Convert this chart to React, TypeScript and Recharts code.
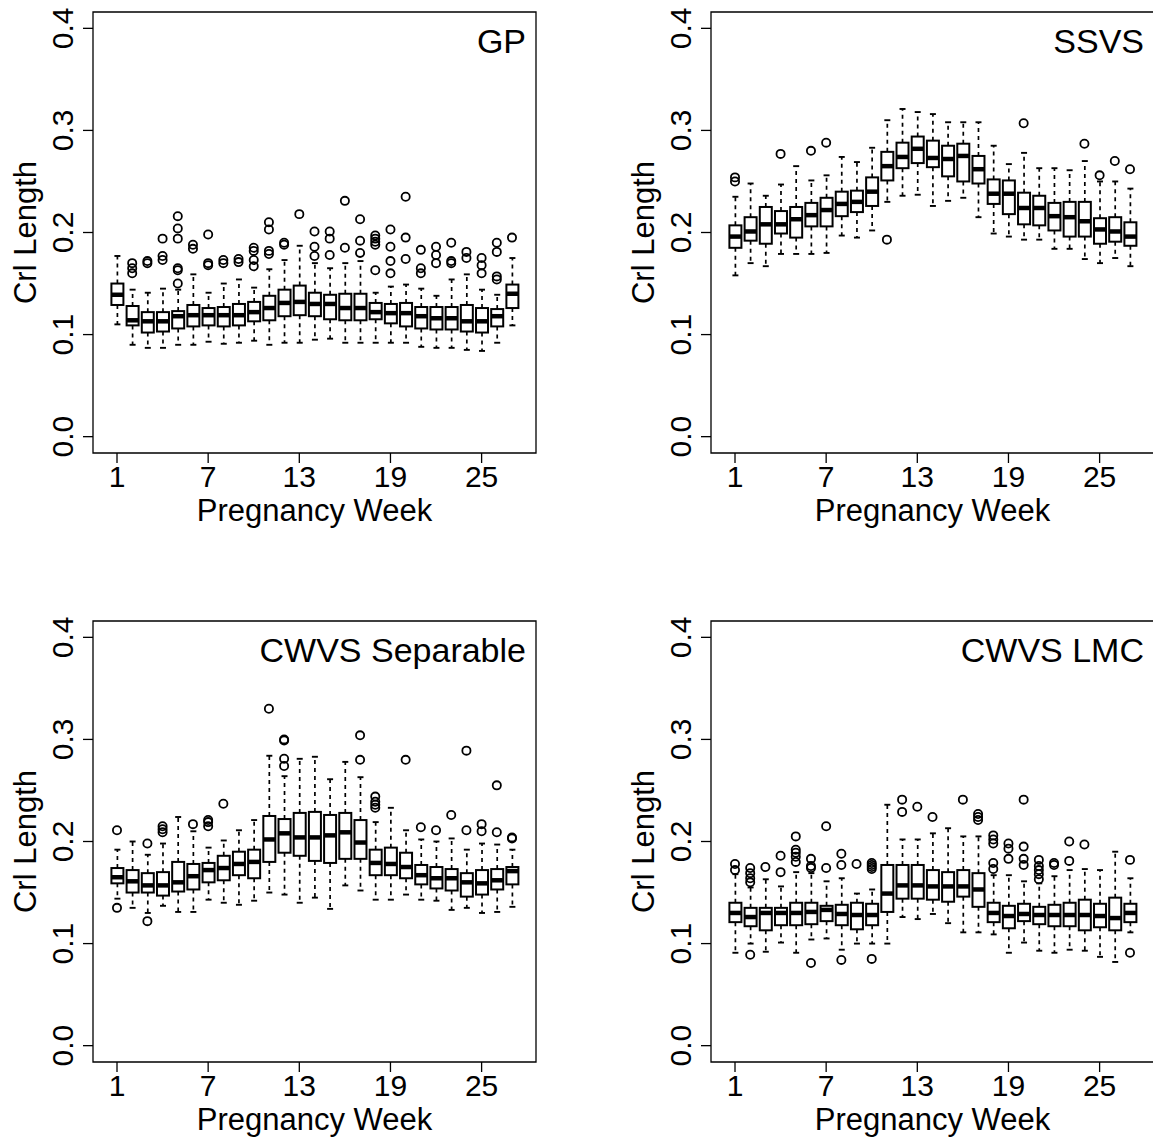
import React from 'react'
import { ComposedChart, Bar, Scatter, XAxis, YAxis, ReferenceArea } from 'recharts'

// pregnancy weeks on the x axis
const weeks = [1, 2, 3, 4, 5, 6, 7, 8, 9, 10, 11, 12, 13, 14, 15, 16, 17, 18, 19, 20, 21, 22, 23, 24, 25, 26, 27]
const xTicks = [1, 7, 13, 19, 25]
const yTicks = [0, 0.1, 0.2, 0.3, 0.4]

// GP
const gpLo = [0.110, 0.090, 0.087, 0.087, 0.090, 0.090, 0.093, 0.091, 0.092, 0.094, 0.090, 0.092, 0.092, 0.095, 0.096, 0.092, 0.092, 0.092, 0.092, 0.092, 0.088, 0.087, 0.087, 0.085, 0.084, 0.092, 0.109]
const gpQ1 = [0.129, 0.109, 0.102, 0.103, 0.106, 0.108, 0.109, 0.108, 0.109, 0.113, 0.114, 0.118, 0.119, 0.118, 0.115, 0.114, 0.114, 0.115, 0.111, 0.108, 0.106, 0.105, 0.105, 0.103, 0.102, 0.108, 0.126]
const gpMed = [0.139, 0.114, 0.113, 0.113, 0.118, 0.119, 0.119, 0.119, 0.119, 0.122, 0.126, 0.131, 0.132, 0.130, 0.130, 0.126, 0.126, 0.122, 0.121, 0.121, 0.118, 0.116, 0.116, 0.113, 0.113, 0.118, 0.140]
const gpQ3 = [0.150, 0.128, 0.122, 0.122, 0.123, 0.129, 0.126, 0.127, 0.130, 0.132, 0.138, 0.144, 0.148, 0.141, 0.139, 0.140, 0.140, 0.131, 0.130, 0.131, 0.127, 0.127, 0.127, 0.129, 0.126, 0.125, 0.149]
const gpHi = [0.177, 0.144, 0.141, 0.145, 0.144, 0.159, 0.141, 0.150, 0.154, 0.146, 0.164, 0.173, 0.187, 0.170, 0.165, 0.170, 0.172, 0.141, 0.147, 0.149, 0.145, 0.138, 0.154, 0.159, 0.144, 0.139, 0.175]
const gpOut = [
  [], [0.170, 0.165, 0.160], [0.172, 0.170], [0.194, 0.177, 0.173], [0.216, 0.204, 0.194, 0.165, 0.163, 0.150],
  [0.188, 0.184], [0.198, 0.170, 0.168], [0.173, 0.170], [0.174, 0.171], [0.185, 0.182, 0.173, 0.167],
  [0.210, 0.203, 0.182, 0.179], [0.190, 0.188], [0.218], [0.201, 0.186, 0.177], [0.201, 0.194, 0.178],
  [0.231, 0.185], [0.213, 0.192, 0.180], [0.197, 0.194, 0.191, 0.188, 0.163], [0.203, 0.186, 0.172, 0.160], [0.235, 0.195, 0.174],
  [0.183, 0.165, 0.160], [0.186, 0.178, 0.170], [0.190, 0.172, 0.170], [0.181, 0.175], [0.175, 0.168, 0.160],
  [0.190, 0.181, 0.157, 0.154], [0.195],
]

// SSVS
const ssLo = [0.158, 0.170, 0.167, 0.179, 0.179, 0.179, 0.180, 0.197, 0.195, 0.202, 0.230, 0.236, 0.237, 0.226, 0.231, 0.234, 0.215, 0.199, 0.196, 0.193, 0.193, 0.184, 0.184, 0.174, 0.170, 0.175, 0.167]
const ssQ1 = [0.185, 0.192, 0.189, 0.199, 0.195, 0.206, 0.206, 0.216, 0.220, 0.226, 0.251, 0.263, 0.268, 0.264, 0.255, 0.250, 0.248, 0.228, 0.218, 0.208, 0.207, 0.202, 0.196, 0.196, 0.189, 0.191, 0.187]
const ssMed = [0.196, 0.201, 0.208, 0.208, 0.213, 0.217, 0.222, 0.228, 0.230, 0.240, 0.265, 0.274, 0.282, 0.273, 0.272, 0.275, 0.262, 0.238, 0.238, 0.224, 0.224, 0.216, 0.215, 0.211, 0.203, 0.201, 0.196]
const ssQ3 = [0.207, 0.215, 0.225, 0.221, 0.225, 0.229, 0.234, 0.240, 0.241, 0.254, 0.279, 0.288, 0.294, 0.290, 0.285, 0.287, 0.275, 0.252, 0.251, 0.239, 0.236, 0.229, 0.230, 0.230, 0.214, 0.215, 0.210]
const ssHi = [0.235, 0.248, 0.236, 0.247, 0.265, 0.251, 0.256, 0.274, 0.269, 0.283, 0.310, 0.321, 0.318, 0.316, 0.308, 0.308, 0.308, 0.285, 0.267, 0.278, 0.263, 0.263, 0.261, 0.270, 0.250, 0.250, 0.243]
const ssOut = [
  [0.254, 0.250], [], [], [0.277], [], [0.280], [0.288], [], [], [],
  [0.193], [], [], [], [], [], [], [], [], [0.307],
  [], [], [], [0.287], [0.256], [0.270], [0.262],
]

// CWVS Separable
const sepLo = [0.144, 0.135, 0.130, 0.137, 0.131, 0.131, 0.143, 0.140, 0.138, 0.142, 0.150, 0.148, 0.140, 0.145, 0.134, 0.157, 0.152, 0.143, 0.143, 0.148, 0.143, 0.142, 0.133, 0.135, 0.130, 0.131, 0.136]
const sepQ1 = [0.159, 0.150, 0.150, 0.147, 0.151, 0.153, 0.160, 0.162, 0.167, 0.164, 0.180, 0.189, 0.186, 0.181, 0.179, 0.183, 0.183, 0.167, 0.167, 0.164, 0.158, 0.154, 0.152, 0.146, 0.148, 0.153, 0.158]
const sepMed = [0.165, 0.161, 0.157, 0.157, 0.160, 0.166, 0.172, 0.174, 0.178, 0.180, 0.202, 0.208, 0.204, 0.204, 0.206, 0.209, 0.199, 0.179, 0.178, 0.175, 0.167, 0.164, 0.164, 0.160, 0.159, 0.162, 0.171]
const sepQ3 = [0.174, 0.172, 0.169, 0.170, 0.180, 0.178, 0.179, 0.186, 0.190, 0.192, 0.225, 0.222, 0.228, 0.229, 0.226, 0.228, 0.221, 0.192, 0.194, 0.189, 0.177, 0.175, 0.173, 0.169, 0.172, 0.173, 0.175]
const sepHi = [0.192, 0.200, 0.187, 0.198, 0.224, 0.210, 0.194, 0.201, 0.211, 0.221, 0.284, 0.264, 0.281, 0.283, 0.261, 0.278, 0.263, 0.219, 0.233, 0.211, 0.202, 0.200, 0.203, 0.192, 0.198, 0.197, 0.192]
const sepOut = [
  [0.211, 0.135], [], [0.198, 0.122], [0.215, 0.212, 0.209], [], [0.217], [0.221, 0.219, 0.215], [0.237], [], [],
  [0.330], [0.300, 0.299, 0.281, 0.274], [], [], [], [], [0.304, 0.280], [0.244, 0.239, 0.236, 0.233], [], [0.280],
  [0.214], [0.211], [0.226], [0.289, 0.211], [0.217, 0.210], [0.255, 0.209], [0.204, 0.203],
]

// CWVS LMC
const lmcLo = [0.091, 0.100, 0.092, 0.101, 0.091, 0.104, 0.105, 0.094, 0.100, 0.100, 0.100, 0.126, 0.124, 0.129, 0.120, 0.111, 0.111, 0.109, 0.091, 0.101, 0.093, 0.091, 0.094, 0.093, 0.087, 0.082, 0.111]
const lmcQ1 = [0.121, 0.117, 0.113, 0.118, 0.118, 0.119, 0.122, 0.118, 0.114, 0.118, 0.131, 0.144, 0.144, 0.143, 0.141, 0.146, 0.136, 0.121, 0.115, 0.122, 0.119, 0.117, 0.117, 0.113, 0.116, 0.113, 0.121]
const lmcMed = [0.130, 0.126, 0.130, 0.130, 0.130, 0.131, 0.133, 0.129, 0.128, 0.128, 0.149, 0.157, 0.157, 0.156, 0.156, 0.156, 0.153, 0.130, 0.127, 0.129, 0.128, 0.128, 0.128, 0.128, 0.127, 0.125, 0.130]
const lmcQ3 = [0.140, 0.135, 0.135, 0.135, 0.140, 0.140, 0.137, 0.138, 0.140, 0.139, 0.177, 0.177, 0.177, 0.172, 0.170, 0.172, 0.169, 0.140, 0.137, 0.139, 0.136, 0.138, 0.140, 0.143, 0.139, 0.145, 0.139]
const lmcHi = [0.168, 0.155, 0.163, 0.156, 0.170, 0.169, 0.161, 0.164, 0.149, 0.153, 0.236, 0.202, 0.202, 0.208, 0.213, 0.205, 0.205, 0.167, 0.167, 0.161, 0.159, 0.166, 0.172, 0.173, 0.172, 0.190, 0.164]
const lmcOut = [
  [0.178, 0.172], [0.174, 0.169, 0.164, 0.160, 0.089], [0.175], [0.186, 0.170], [0.205, 0.192, 0.189, 0.185, 0.180],
  [0.183, 0.176, 0.174, 0.081], [0.215, 0.174], [0.188, 0.177, 0.084], [0.178], [0.179, 0.177, 0.175, 0.173, 0.085],
  [], [0.241, 0.229], [0.234], [0.224], [], [0.241], [0.227, 0.224, 0.221], [0.206, 0.202, 0.198, 0.179, 0.173],
  [0.198, 0.193, 0.183], [0.241, 0.195, 0.183, 0.177], [0.182, 0.176, 0.172, 0.168, 0.163], [0.179, 0.177],
  [0.200, 0.181], [0.197], [], [], [0.182, 0.091],
]

const FONT = '"Liberation Sans", Arial, Helvetica, sans-serif'
const X_DOMAIN = [-0.58, 28.58]
const Y_DOMAIN = [-0.016, 0.416]

function buildRows(lo: number[], q1: number[], med: number[], q3: number[], hi: number[]) {
  return weeks.map((w, i) => ({ week: w, range: [lo[i], hi[i]], q1: q1[i], med: med[i], q3: q3[i] }))
}

function buildOutliers(out: number[][]) {
  return out.flatMap((vals, i) => vals.map((v) => ({ week: weeks[i], value: v })))
}

// box + whiskers drawn inside the whisker range bar
const BoxShape = (props: any) => {
  const { x, y, width, height, payload } = props
  if (x == null || payload == null) return null
  const top = Math.min(y, y + height)
  const bottom = Math.max(y, y + height)
  const [lo, hi] = payload.range
  const py = (v: number) => bottom - ((v - lo) / (hi - lo)) * (bottom - top)
  const cx = x + width / 2
  const st = width / 4
  const yq3 = py(payload.q3)
  const yq1 = py(payload.q1)
  return (
    <g>
      <line x1={cx} y1={yq3} x2={cx} y2={top} stroke="#000" strokeWidth={1.7} strokeDasharray="4 4" />
      <line x1={cx} y1={yq1} x2={cx} y2={bottom} stroke="#000" strokeWidth={1.7} strokeDasharray="4 4" />
      <line x1={cx - st} y1={top} x2={cx + st} y2={top} stroke="#000" strokeWidth={1.9} />
      <line x1={cx - st} y1={bottom} x2={cx + st} y2={bottom} stroke="#000" strokeWidth={1.9} />
      <rect x={x} y={yq3} width={width} height={yq1 - yq3} fill="#fff" stroke="#000" strokeWidth={2} />
      <line x1={x} y1={py(payload.med)} x2={x + width} y2={py(payload.med)} stroke="#000" strokeWidth={4.5} />
    </g>
  )
}

const Outlier = (props: any) => {
  const { cx, cy } = props
  if (cx == null || cy == null) return null
  return <circle cx={cx} cy={cy} r={4.1} fill="none" stroke="#000" strokeWidth={1.8} />
}

const XTick = (props: any) => {
  const { x, y, payload } = props
  return (
    <text x={x} y={y + 21.5} textAnchor="middle" fontSize={30} fontFamily={FONT} fill="#000">
      {payload.value}
    </text>
  )
}

const YTick = (props: any) => {
  const { x, y, payload } = props
  return (
    <text x={x} y={y} transform={`rotate(-90, ${x}, ${y})`} textAnchor="middle" fontSize={30} fontFamily={FONT} fill="#000">
      {Number(payload.value).toFixed(1)}
    </text>
  )
}

function Panel({ title, lo, q1, med, q3, hi, out }: { title: string, lo: number[], q1: number[], med: number[], q3: number[], hi: number[], out: number[][] }) {
  const rows = buildRows(lo, q1, med, q3, hi)
  const outliers = buildOutliers(out)
  return (
    <ComposedChart width={576} height={572} data={rows} margin={{ top: 12, right: 40, bottom: 19, left: 0 }}>
      <XAxis
        dataKey="week"
        type="number"
        domain={X_DOMAIN}
        ticks={xTicks}
        interval={0}
        allowDataOverflow
        axisLine={false}
        tickSize={10}
        tickLine={{ stroke: '#000', strokeWidth: 1.3 }}
        tick={<XTick />}
        height={100}
        label={(p: any) => {
          const vb = p.viewBox || { x: 93, y: 453, width: 443 }
          return (
            <text x={vb.x + vb.width / 2} y={vb.y + 68} textAnchor="middle" fontSize={31} fontFamily={FONT} fill="#000">
              Pregnancy Week
            </text>
          )
        }}
      />
      <YAxis
        type="number"
        domain={Y_DOMAIN}
        ticks={yTicks}
        interval={0}
        allowDataOverflow
        axisLine={false}
        tickSize={10}
        tickMargin={10}
        tickLine={{ stroke: '#000', strokeWidth: 1.3 }}
        tick={<YTick />}
        width={93}
        label={(p: any) => {
          const vb = p.viewBox || { x: 0, y: 12, height: 441 }
          const lx = vb.x + 36
          const ly = vb.y + vb.height / 2
          return (
            <text x={lx} y={ly} transform={`rotate(-90, ${lx}, ${ly})`} textAnchor="middle" fontSize={31} fontFamily={FONT} fill="#000">
              Crl Length
            </text>
          )
        }}
      />
      <ReferenceArea
        x1={X_DOMAIN[0]}
        x2={X_DOMAIN[1]}
        y1={Y_DOMAIN[0]}
        y2={Y_DOMAIN[1]}
        ifOverflow="visible"
        fill="none"
        fillOpacity={0}
        stroke="#000"
        strokeWidth={1.3}
        label={(p: any) => {
          const vb = p.viewBox || { x: 93, y: 12 }
          return (
            <text x={vb.x + 433} y={vb.y + 41} textAnchor="end" fontSize={34} fontFamily={FONT} fill="#000">
              {title}
            </text>
          )
        }}
      />
      <Bar dataKey="range" barSize={12} shape={<BoxShape />} isAnimationActive={false} />
      <Scatter data={outliers} dataKey="value" shape={<Outlier />} isAnimationActive={false} />
    </ComposedChart>
  )
}

export default function App() {
  return (
    <div style={{ position: 'absolute', left: 0, top: 0, width: 1153, height: 1144, overflow: 'hidden', background: '#fff' }}>
      <div style={{ position: 'absolute', left: 0, top: 0 }}>
        <Panel title="GP" lo={gpLo} q1={gpQ1} med={gpMed} q3={gpQ3} hi={gpHi} out={gpOut} />
      </div>
      <div style={{ position: 'absolute', left: 618, top: 0 }}>
        <Panel title="SSVS" lo={ssLo} q1={ssQ1} med={ssMed} q3={ssQ3} hi={ssHi} out={ssOut} />
      </div>
      <div style={{ position: 'absolute', left: 0, top: 609 }}>
        <Panel title="CWVS Separable" lo={sepLo} q1={sepQ1} med={sepMed} q3={sepQ3} hi={sepHi} out={sepOut} />
      </div>
      <div style={{ position: 'absolute', left: 618, top: 609 }}>
        <Panel title="CWVS LMC" lo={lmcLo} q1={lmcQ1} med={lmcMed} q3={lmcQ3} hi={lmcHi} out={lmcOut} />
      </div>
    </div>
  )
}
